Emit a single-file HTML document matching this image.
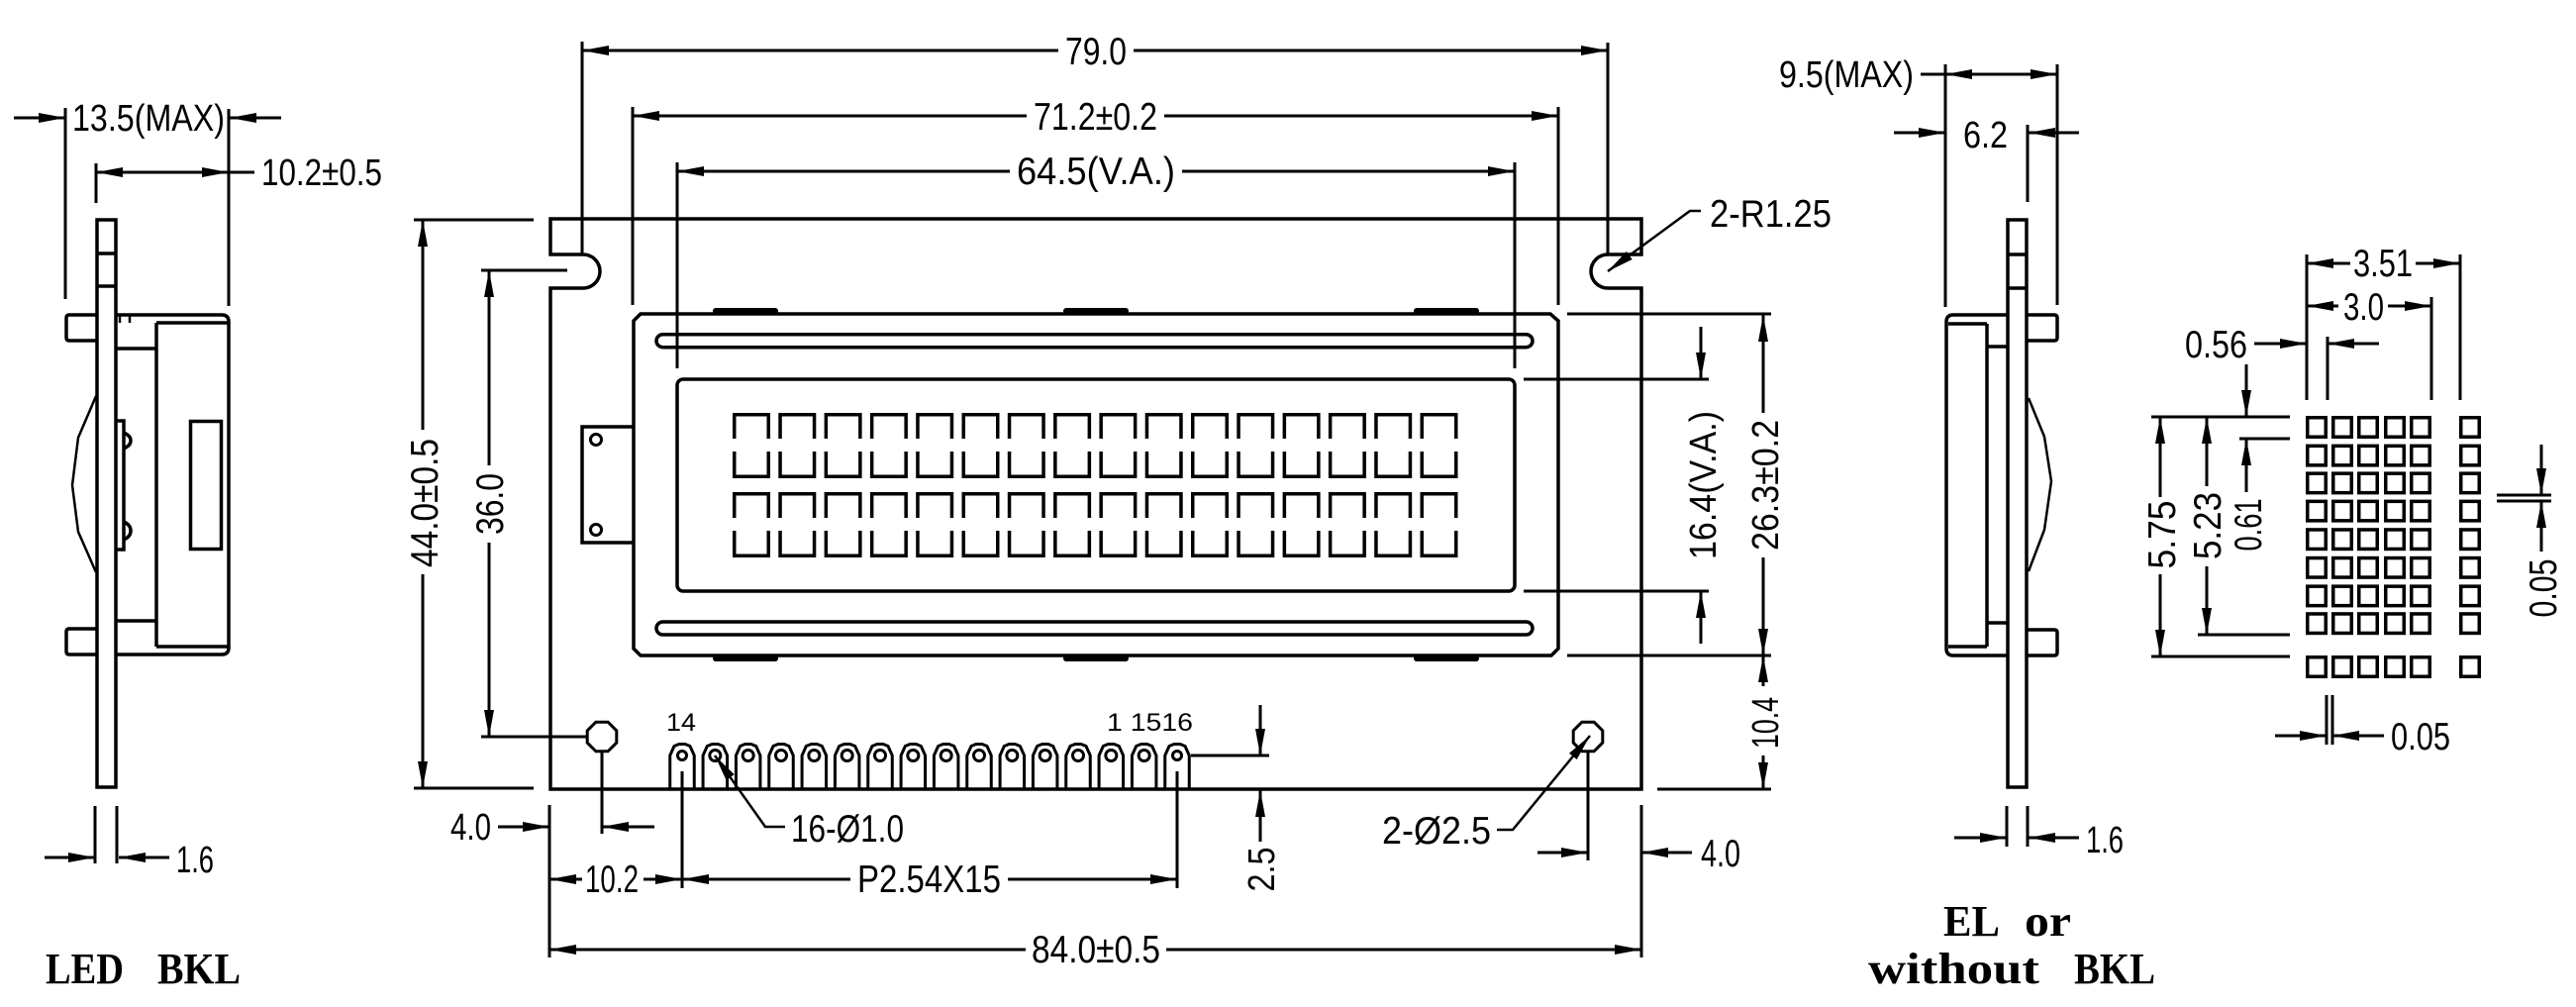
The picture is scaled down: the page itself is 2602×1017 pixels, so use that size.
<!DOCTYPE html>
<html><head><meta charset="utf-8">
<style>
html,body{margin:0;padding:0;background:#fff;}
svg{display:block;}
text{font-family:"Liberation Sans",sans-serif;fill:#000;stroke:none;}
.n{font-size:39px;}
.w{font-size:38px;}
.p{font-size:25px;}
.b{font-family:"Liberation Serif",serif;font-weight:bold;font-size:44px;}
</style></head><body>
<svg width="2602" height="1017" viewBox="0 0 2602 1017" xmlns="http://www.w3.org/2000/svg">
<defs>
<polygon id="a" points="0,0 -27,-5 -27,5" fill="#000"/>
<path id="ch" d="M1.75,26V1.75H36.25V26M1.75,39V64.25H36.25V39" fill="none" stroke="#000" stroke-width="3.5"/>
<path id="pn" d="M-12.25,46V13L-8,3.5L-3,1.5H3L8,3.5L12.25,13V46" fill="none" stroke="#000" stroke-width="3"/>
<rect id="dq" x="1.75" y="1.75" width="18.5" height="19.5" fill="none" stroke="#000" stroke-width="3.5"/>
<polygon id="oc" points="6.1,-14.8 14.8,-6.1 14.8,6.1 6.1,14.8 -6.1,14.8 -14.8,6.1 -14.8,-6.1 -6.1,-14.8" fill="none" stroke="#000" stroke-width="3"/>
</defs>

<rect width="2602" height="1017" fill="#fff"/>

<!-- ================= LEFT SIDE VIEW ================= -->
<g fill="none" stroke="#000" stroke-width="3.5">
<rect x="98" y="222" width="19" height="573"/>
<path d="M98,256H117M98,289H117"/>
<path d="M117,318H224Q231,318 231,325V654Q231,661 224,661H117"/>
<path d="M158,326V653M158,326H230M158,653H230M117,352H158M117,627H158"/>
<path d="M97,318H70Q67,318 67,321V341Q67,344 70,344H97"/>
<path d="M97,635H70Q67,635 67,638V658Q67,661 70,661H97"/>
<rect x="192.5" y="425.5" width="31" height="129"/>
<path d="M118,425H125V555H118M125,437Q132,440 132,445Q132,450 125,453M125,527Q132,530 132,536Q132,542 125,545"/>
<path d="M121,318V326M131,318V326" stroke-width="2.5"/>
<polyline points="97,400 79,442 73,490 79,537 97,578" stroke-width="2.5"/>
</g>
<g fill="none" stroke="#000" stroke-width="3">
<path d="M66,109V302M231,110V309M97,165V205"/>
<path d="M14,119H66M232,119H284"/>
<path d="M97,174H257"/>
<path d="M96,814V872M118,814V872M45,866H96M120,866H171"/>
</g>
<use href="#a" transform="translate(66,119)"/>
<use href="#a" transform="translate(232,119) rotate(180)"/>
<use href="#a" transform="translate(97,174) rotate(180)"/>
<use href="#a" transform="translate(231,174)"/>
<use href="#a" transform="translate(96,866)"/>
<use href="#a" transform="translate(120,866) rotate(180)"/>
<text class="w" x="73" y="132" textLength="154" lengthAdjust="spacingAndGlyphs">13.5(MAX)</text>
<text class="w" x="264" y="187" textLength="122" lengthAdjust="spacingAndGlyphs">10.2±0.5</text>
<text class="w" x="178" y="881" textLength="38" lengthAdjust="spacingAndGlyphs">1.6</text>
<text class="b" x="46" y="993" textLength="79" lengthAdjust="spacingAndGlyphs">LED</text>
<text class="b" x="159" y="993" textLength="84" lengthAdjust="spacingAndGlyphs">BKL</text>

<!-- ================= MAIN VIEW ================= -->
<g fill="none" stroke="#000" stroke-width="3.5">
<path d="M556,221H1658V257H1624A17,17 0 0 0 1624,291H1658V797H556V291H589A17,17 0 0 0 589,257H556Z"/>
<path d="M639,431H588V548H639"/>
<path d="M647,317H1566L1574,324V655L1567,662H647L640,655V324Z"/>
<rect x="663" y="337.7" width="885" height="13" rx="6.5"/>
<rect x="663" y="628" width="885" height="13" rx="6.5"/>
<rect x="684" y="383" width="846" height="214" rx="6"/>
</g>
<g fill="none" stroke="#000" stroke-width="3">
<circle cx="602" cy="444" r="5.5"/>
<circle cx="602" cy="535" r="5.5"/>
</g>
<g fill="#000">
<rect x="720" y="311" width="66" height="6" rx="3"/>
<rect x="1074" y="311" width="66" height="6" rx="3"/>
<rect x="1428" y="311" width="66" height="6" rx="3"/>
<rect x="720" y="662" width="66" height="6" rx="3"/>
<rect x="1074" y="662" width="66" height="6" rx="3"/>
<rect x="1428" y="662" width="66" height="6" rx="3"/>
</g>
<!-- characters -->
<g>
<use href="#ch" x="740" y="417"/><use href="#ch" x="786.3" y="417"/><use href="#ch" x="832.6" y="417"/><use href="#ch" x="878.9" y="417"/>
<use href="#ch" x="925.2" y="417"/><use href="#ch" x="971.5" y="417"/><use href="#ch" x="1017.8" y="417"/><use href="#ch" x="1064.1" y="417"/>
<use href="#ch" x="1110.4" y="417"/><use href="#ch" x="1156.7" y="417"/><use href="#ch" x="1203" y="417"/><use href="#ch" x="1249.3" y="417"/>
<use href="#ch" x="1295.6" y="417"/><use href="#ch" x="1341.9" y="417"/><use href="#ch" x="1388.2" y="417"/><use href="#ch" x="1434.5" y="417"/>
<use href="#ch" x="740" y="497"/><use href="#ch" x="786.3" y="497"/><use href="#ch" x="832.6" y="497"/><use href="#ch" x="878.9" y="497"/>
<use href="#ch" x="925.2" y="497"/><use href="#ch" x="971.5" y="497"/><use href="#ch" x="1017.8" y="497"/><use href="#ch" x="1064.1" y="497"/>
<use href="#ch" x="1110.4" y="497"/><use href="#ch" x="1156.7" y="497"/><use href="#ch" x="1203" y="497"/><use href="#ch" x="1249.3" y="497"/>
<use href="#ch" x="1295.6" y="497"/><use href="#ch" x="1341.9" y="497"/><use href="#ch" x="1388.2" y="497"/><use href="#ch" x="1434.5" y="497"/>
</g>
<!-- holes -->
<use href="#oc" transform="translate(608,744)"/>
<use href="#oc" transform="translate(1604,744)"/>
<!-- pins -->
<g>
<use href="#pn" transform="translate(689,750)"/><use href="#pn" transform="translate(722.33,750)"/><use href="#pn" transform="translate(755.67,750)"/><use href="#pn" transform="translate(789,750)"/>
<use href="#pn" transform="translate(822.33,750)"/><use href="#pn" transform="translate(855.67,750)"/><use href="#pn" transform="translate(889,750)"/><use href="#pn" transform="translate(922.33,750)"/>
<use href="#pn" transform="translate(955.67,750)"/><use href="#pn" transform="translate(989,750)"/><use href="#pn" transform="translate(1022.33,750)"/><use href="#pn" transform="translate(1055.67,750)"/>
<use href="#pn" transform="translate(1089,750)"/><use href="#pn" transform="translate(1122.33,750)"/><use href="#pn" transform="translate(1155.67,750)"/><use href="#pn" transform="translate(1189,750)"/>
</g>
<g fill="none" stroke="#000" stroke-width="3">
<circle cx="689" cy="763" r="4.5"/><circle cx="722.33" cy="763" r="5.5"/><circle cx="755.67" cy="763" r="5.5"/><circle cx="789" cy="763" r="5.5"/>
<circle cx="822.33" cy="763" r="5.5"/><circle cx="855.67" cy="763" r="5.5"/><circle cx="889" cy="763" r="5.5"/><circle cx="922.33" cy="763" r="5.5"/>
<circle cx="955.67" cy="763" r="5.5"/><circle cx="989" cy="763" r="5.5"/><circle cx="1022.33" cy="763" r="5.5"/><circle cx="1055.67" cy="763" r="5.5"/>
<circle cx="1089" cy="763" r="5.5"/><circle cx="1122.33" cy="763" r="5.5"/><circle cx="1155.67" cy="763" r="5.5"/><circle cx="1189" cy="763" r="4.5"/>
</g>
<!-- main view dimension lines -->
<g fill="none" stroke="#000" stroke-width="3">
<!-- top -->
<path d="M588,42V257M1624,43V257M639,108V308M1574,108V308M684,164V372M1530,164V372"/>
<path d="M588,51H1069M1145,51H1624"/>
<path d="M639,117H1037M1176,117H1574"/>
<path d="M684,173H1020M1194,173H1530"/>
<!-- left -->
<path d="M418,222H539M418,796H539"/>
<path d="M427,222V434M427,580V796"/>
<path d="M486,273H573M486,744H592"/>
<path d="M494,273V470M494,548V744"/>
<path d="M503,835H555M661,835H608"/>
<path d="M608,760V842"/>
<!-- bottom -->
<path d="M555,813V967M1658,813V967"/>
<path d="M555,888H588M650,888H689"/>
<path d="M689,888H859M1018,888H1189"/>
<path d="M689,779V897M1189,779V897"/>
<path d="M555,959H1036M1178,959H1658"/>
<path d="M722,763L773,835H793" stroke-width="2.5"/>
<path d="M1203,763H1282M1273,712V763M1273,850V798"/>
<path d="M1604,760V869M1553,861H1604M1709,861H1658"/>
<path d="M1512,838H1528L1606,743" stroke-width="2.5"/>
<!-- right -->
<path d="M1583,317H1789M1539,383H1726M1539,597H1726M1583,662H1789M1674,797H1789"/>
<path d="M1718,330V383M1718,650V597"/>
<path d="M1781,417V318M1781,563V662M1781,693V662M1781,763V797"/>
<path d="M1624,274L1707,213H1718" stroke-width="2.5"/>
</g>
<!-- main arrows -->
<use href="#a" transform="translate(588,51) rotate(180)"/>
<use href="#a" transform="translate(1624,51)"/>
<use href="#a" transform="translate(639,117) rotate(180)"/>
<use href="#a" transform="translate(1574,117)"/>
<use href="#a" transform="translate(684,173) rotate(180)"/>
<use href="#a" transform="translate(1530,173)"/>
<use href="#a" transform="translate(427,222) rotate(-90)"/>
<use href="#a" transform="translate(427,796) rotate(90)"/>
<use href="#a" transform="translate(494,273) rotate(-90)"/>
<use href="#a" transform="translate(494,744) rotate(90)"/>
<use href="#a" transform="translate(555,835)"/>
<use href="#a" transform="translate(608,835) rotate(180)"/>
<use href="#a" transform="translate(555,888) rotate(180)"/>
<use href="#a" transform="translate(689,888)"/>
<use href="#a" transform="translate(689,888) rotate(180)"/>
<use href="#a" transform="translate(1189,888)"/>
<use href="#a" transform="translate(555,959) rotate(180)"/>
<use href="#a" transform="translate(1658,959)"/>
<use href="#a" transform="translate(722,763) rotate(-125.3)"/>
<use href="#a" transform="translate(1273,763) rotate(90)"/>
<use href="#a" transform="translate(1273,798) rotate(-90)"/>
<use href="#a" transform="translate(1604,861)"/>
<use href="#a" transform="translate(1658,861) rotate(180)"/>
<use href="#a" transform="translate(1606,743) rotate(-50.6)"/>
<use href="#a" transform="translate(1718,383) rotate(90)"/>
<use href="#a" transform="translate(1718,597) rotate(-90)"/>
<use href="#a" transform="translate(1781,318) rotate(-90)"/>
<use href="#a" transform="translate(1781,662) rotate(90)"/>
<use href="#a" transform="translate(1781,662) rotate(-90)"/>
<use href="#a" transform="translate(1781,797) rotate(90)"/>
<use href="#a" transform="translate(1624,274) rotate(143.7)"/>
<!-- main texts -->
<text class="n" x="1076" y="65" textLength="62" lengthAdjust="spacingAndGlyphs">79.0</text>
<text class="n" x="1044" y="131" textLength="125" lengthAdjust="spacingAndGlyphs">71.2±0.2</text>
<text class="n" x="1027" y="186" textLength="160" lengthAdjust="spacingAndGlyphs">64.5(V.A.)</text>
<text class="n" x="1727" y="229" textLength="123" lengthAdjust="spacingAndGlyphs">2-R1.25</text>
<text class="n" text-anchor="middle" transform="translate(428,508) rotate(-90)" x="0" y="14" textLength="130" lengthAdjust="spacingAndGlyphs">44.0±0.5</text>
<text class="n" text-anchor="middle" transform="translate(494,509) rotate(-90)" x="0" y="14" textLength="62" lengthAdjust="spacingAndGlyphs">36.0</text>
<text class="w" x="455" y="848" textLength="41" lengthAdjust="spacingAndGlyphs">4.0</text>
<text class="n" x="591" y="901" textLength="54" lengthAdjust="spacingAndGlyphs">10.2</text>
<text class="n" x="866" y="901" textLength="145" lengthAdjust="spacingAndGlyphs">P2.54X15</text>
<text class="n" x="1042" y="972" textLength="130" lengthAdjust="spacingAndGlyphs">84.0±0.5</text>
<text class="n" x="799" y="850" textLength="114" lengthAdjust="spacingAndGlyphs">16-Ø1.0</text>
<text class="n" x="1396" y="852" textLength="110" lengthAdjust="spacingAndGlyphs">2-Ø2.5</text>
<text class="n" x="1718" y="875" textLength="40" lengthAdjust="spacingAndGlyphs">4.0</text>
<text class="w" text-anchor="middle" transform="translate(1273,878) rotate(-90)" x="0" y="14" textLength="45" lengthAdjust="spacingAndGlyphs">2.5</text>
<text class="w" text-anchor="middle" transform="translate(1719,490) rotate(-90)" x="0" y="14" textLength="150" lengthAdjust="spacingAndGlyphs">16.4(V.A.)</text>
<text class="w" text-anchor="middle" transform="translate(1782,490) rotate(-90)" x="0" y="14" textLength="132" lengthAdjust="spacingAndGlyphs">26.3±0.2</text>
<text class="w" text-anchor="middle" transform="translate(1782,730) rotate(-90)" x="0" y="14" textLength="52" lengthAdjust="spacingAndGlyphs">10.4</text>
<text class="p" x="673" y="738" textLength="30" lengthAdjust="spacingAndGlyphs">14</text>
<text class="p" x="1118" y="738" textLength="87" lengthAdjust="spacingAndGlyphs">1 1516</text>

<!-- ================= RIGHT SIDE VIEW ================= -->
<g fill="none" stroke="#000" stroke-width="3.5">
<rect x="2028" y="222" width="19" height="573"/>
<path d="M2028,257H2047M2028,291H2047"/>
<path d="M2028,318H1973Q1966,318 1966,325V655Q1966,662 1973,662H2028"/>
<path d="M2007,327V653M1968,327H2007M1968,653H2007M2007,350H2028M2007,629H2028"/>
<path d="M2047,318H2075Q2078,318 2078,321V341Q2078,344 2075,344H2047"/>
<path d="M2047,636H2075Q2078,636 2078,639V659Q2078,662 2075,662H2047"/>
<polyline points="2049,402 2065,441 2072,486 2065,535 2049,577" stroke-width="2.5"/>
</g>
<g fill="none" stroke="#000" stroke-width="3">
<path d="M1940,75H2078M1965,65V310M2078,65V308"/>
<path d="M1913,134H1965M2100,134H2049M2048,126V204"/>
<path d="M2027,814V855M2048,814V855M1974,846H2027M2100,846H2049"/>
</g>
<use href="#a" transform="translate(1965,75) rotate(180)"/>
<use href="#a" transform="translate(2078,75)"/>
<use href="#a" transform="translate(1965,134)"/>
<use href="#a" transform="translate(2049,134) rotate(180)"/>
<use href="#a" transform="translate(2027,846)"/>
<use href="#a" transform="translate(2049,846) rotate(180)"/>
<text class="w" x="1797" y="88" textLength="136" lengthAdjust="spacingAndGlyphs">9.5(MAX)</text>
<text class="w" x="1983" y="149" textLength="45" lengthAdjust="spacingAndGlyphs">6.2</text>
<text class="w" x="2107" y="861" textLength="38" lengthAdjust="spacingAndGlyphs">1.6</text>
<text class="b" x="1963" y="945" textLength="57" lengthAdjust="spacingAndGlyphs">EL</text>
<text class="b" x="2045" y="945" textLength="47" lengthAdjust="spacingAndGlyphs">or</text>
<text class="b" x="1887" y="993" textLength="173" lengthAdjust="spacingAndGlyphs">without</text>
<text class="b" x="2095" y="993" textLength="82" lengthAdjust="spacingAndGlyphs">BKL</text>

<!-- ================= CHARACTER DETAIL ================= -->
<g>
<use href="#dq" x="2329" y="420"/><use href="#dq" x="2355" y="420"/><use href="#dq" x="2381" y="420"/><use href="#dq" x="2408" y="420"/><use href="#dq" x="2434" y="420"/><use href="#dq" x="2484" y="420"/>
<use href="#dq" x="2329" y="448.6"/><use href="#dq" x="2355" y="448.6"/><use href="#dq" x="2381" y="448.6"/><use href="#dq" x="2408" y="448.6"/><use href="#dq" x="2434" y="448.6"/><use href="#dq" x="2484" y="448.6"/>
<use href="#dq" x="2329" y="476.4"/><use href="#dq" x="2355" y="476.4"/><use href="#dq" x="2381" y="476.4"/><use href="#dq" x="2408" y="476.4"/><use href="#dq" x="2434" y="476.4"/><use href="#dq" x="2484" y="476.4"/>
<use href="#dq" x="2329" y="504.6"/><use href="#dq" x="2355" y="504.6"/><use href="#dq" x="2381" y="504.6"/><use href="#dq" x="2408" y="504.6"/><use href="#dq" x="2434" y="504.6"/><use href="#dq" x="2484" y="504.6"/>
<use href="#dq" x="2329" y="533.2"/><use href="#dq" x="2355" y="533.2"/><use href="#dq" x="2381" y="533.2"/><use href="#dq" x="2408" y="533.2"/><use href="#dq" x="2434" y="533.2"/><use href="#dq" x="2484" y="533.2"/>
<use href="#dq" x="2329" y="561.8"/><use href="#dq" x="2355" y="561.8"/><use href="#dq" x="2381" y="561.8"/><use href="#dq" x="2408" y="561.8"/><use href="#dq" x="2434" y="561.8"/><use href="#dq" x="2484" y="561.8"/>
<use href="#dq" x="2329" y="590.4"/><use href="#dq" x="2355" y="590.4"/><use href="#dq" x="2381" y="590.4"/><use href="#dq" x="2408" y="590.4"/><use href="#dq" x="2434" y="590.4"/><use href="#dq" x="2484" y="590.4"/>
<use href="#dq" x="2329" y="618.2"/><use href="#dq" x="2355" y="618.2"/><use href="#dq" x="2381" y="618.2"/><use href="#dq" x="2408" y="618.2"/><use href="#dq" x="2434" y="618.2"/><use href="#dq" x="2484" y="618.2"/>
<use href="#dq" x="2329" y="662"/><use href="#dq" x="2355" y="662"/><use href="#dq" x="2381" y="662"/><use href="#dq" x="2408" y="662"/><use href="#dq" x="2434" y="662"/><use href="#dq" x="2484" y="662"/>
</g>
<g fill="none" stroke="#000" stroke-width="3">
<path d="M2330,257V404M2485,257V404M2456,300V404M2351,340V404"/>
<path d="M2330,266H2374M2440,266H2485"/>
<path d="M2330,309H2362M2412,309H2456"/>
<path d="M2277,347H2330M2403,347H2351"/>
<path d="M2173,421H2313M2173,663H2313M2220,641H2313M2262,443H2313"/>
<path d="M2182,421V502M2182,580V663"/>
<path d="M2229,421V491M2229,572V641"/>
<path d="M2269,368V421M2269,497V443"/>
<path d="M2522,500H2577M2522,506H2577M2567,449V500M2567,557V506"/>
<path d="M2350,702V752M2356,702V752M2298,743H2350M2408,743H2356"/>
</g>
<use href="#a" transform="translate(2330,266) rotate(180)"/>
<use href="#a" transform="translate(2485,266)"/>
<use href="#a" transform="translate(2330,309) rotate(180)"/>
<use href="#a" transform="translate(2456,309)"/>
<use href="#a" transform="translate(2330,347)"/>
<use href="#a" transform="translate(2351,347) rotate(180)"/>
<use href="#a" transform="translate(2182,421) rotate(-90)"/>
<use href="#a" transform="translate(2182,663) rotate(90)"/>
<use href="#a" transform="translate(2229,421) rotate(-90)"/>
<use href="#a" transform="translate(2229,641) rotate(90)"/>
<use href="#a" transform="translate(2269,421) rotate(90)"/>
<use href="#a" transform="translate(2269,443) rotate(-90)"/>
<use href="#a" transform="translate(2567,500) rotate(90)"/>
<use href="#a" transform="translate(2567,506) rotate(-90)"/>
<use href="#a" transform="translate(2350,743)"/>
<use href="#a" transform="translate(2356,743) rotate(180)"/>
<text class="n" x="2377" y="279" textLength="60" lengthAdjust="spacingAndGlyphs">3.51</text>
<text class="n" x="2367" y="323" textLength="41" lengthAdjust="spacingAndGlyphs">3.0</text>
<text class="n" x="2207" y="361" textLength="63" lengthAdjust="spacingAndGlyphs">0.56</text>
<text class="n" text-anchor="middle" transform="translate(2183,540) rotate(-90)" x="0" y="14" textLength="69" lengthAdjust="spacingAndGlyphs">5.75</text>
<text class="n" text-anchor="middle" transform="translate(2229,531) rotate(-90)" x="0" y="14" textLength="68" lengthAdjust="spacingAndGlyphs">5.23</text>
<text class="n" text-anchor="middle" transform="translate(2270,530) rotate(-90)" x="0" y="14" textLength="53" lengthAdjust="spacingAndGlyphs">0.61</text>
<text class="n" text-anchor="middle" transform="translate(2568,594) rotate(-90)" x="0" y="14" textLength="59" lengthAdjust="spacingAndGlyphs">0.05</text>
<text class="n" x="2415" y="757" textLength="60" lengthAdjust="spacingAndGlyphs">0.05</text>
</svg>
</body></html>
